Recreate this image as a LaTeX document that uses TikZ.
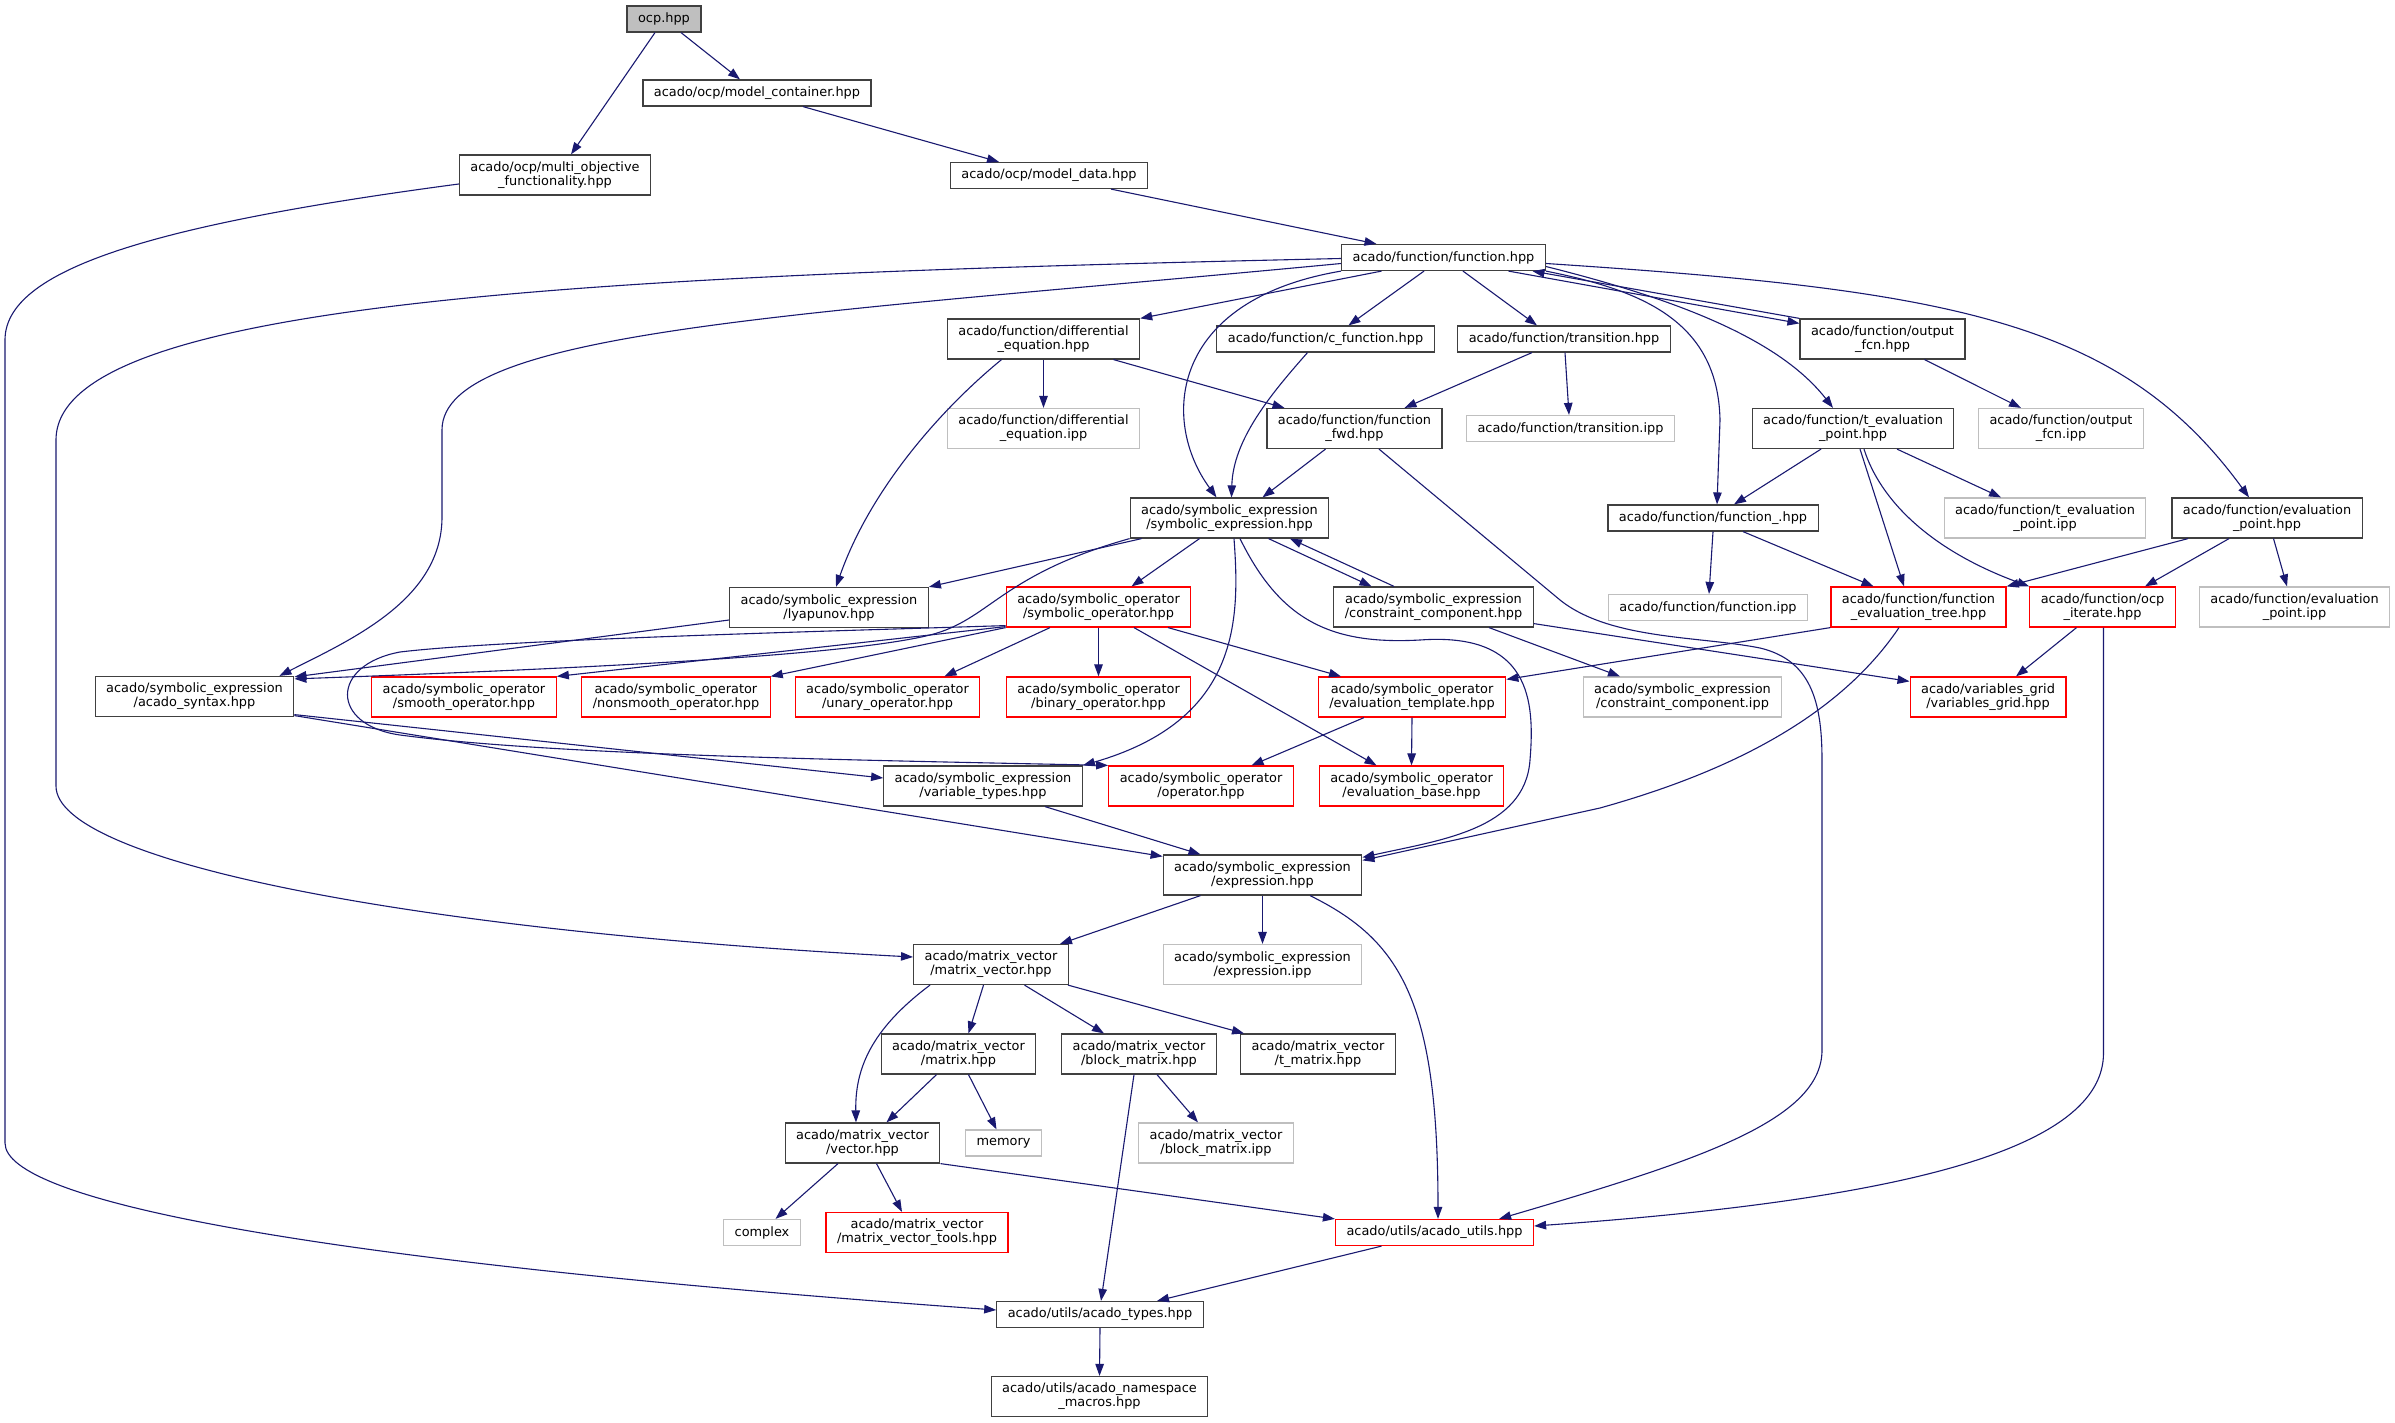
\documentclass[tikz,border=0pt]{standalone}
\usepackage{fontspec}
\setmainfont{DejaVu Sans}
\usetikzlibrary{arrows.meta}
\definecolor{edgecol}{HTML}{191970}
\definecolor{boxline}{HTML}{404040}
\definecolor{extline}{HTML}{BFBFBF}
\definecolor{rootfill}{HTML}{BFBFBF}
\begin{document}
\begin{tikzpicture}[x=1pt, y=-1pt,
	filebox/.style={draw=boxline, fill=white, line width=1.2pt, align=center,
		font=\fontsize{12.9pt}{14pt}\selectfont, inner xsep=11pt, inner ysep=3pt, minimum height=26pt},
	tall/.style={minimum height=40pt},
	truncbox/.style={filebox, draw=red},
	extbox/.style={filebox, draw=extline},
	rootbox/.style={filebox, fill=rootfill},
	edge/.style={draw=edgecol, line width=1.1pt, -{Triangle[length=12pt,width=8.5pt]}}]
	\fill[white] (0,0) rectangle (2395,1423);
	\useasboundingbox (0,0) rectangle (2395,1423);
	% top of the graph
	\node[rootbox] (ocp) at (664,19) {ocp.hpp};
	\node[filebox] (modcont) at (757,93) {acado/ocp/model\_container.hpp};
	\node[filebox,tall] (multiobj) at (555,175) {acado/ocp/multi\_objective\\\_functionality.hpp};
	\node[filebox] (moddata) at (1049,175.5) {acado/ocp/model\_data.hpp};
	\node[filebox] (fn) at (1443.5,257.5) {acado/function/function.hpp};
	% function layer
	\node[filebox,tall] (diffeq) at (1043.5,339) {acado/function/differential\\\_equation.hpp};
	\node[filebox] (cfn) at (1325.5,339) {acado/function/c\_function.hpp};
	\node[filebox] (trans) at (1564,339) {acado/function/transition.hpp};
	\node[filebox,tall] (outfcn) at (1882.5,339) {acado/function/output\\\_fcn.hpp};
	\node[extbox,tall] (diffeqipp) at (1043.5,428.5) {acado/function/differential\\\_equation.ipp};
	\node[filebox,tall] (fnfwd) at (1354.5,428.5) {acado/function/function\\\_fwd.hpp};
	\node[extbox] (transipp) at (1570.5,428.5) {acado/function/transition.ipp};
	\node[filebox,tall] (tevalpt) at (1853,428.5) {acado/function/t\_evaluation\\\_point.hpp};
	\node[extbox,tall] (outfcnipp) at (2061,428.5) {acado/function/output\\\_fcn.ipp};
	\node[filebox,tall] (symexpr) at (1229.5,518) {acado/symbolic\_expression\\/symbolic\_expression.hpp};
	\node[filebox] (fnus) at (1713,518) {acado/function/function\_.hpp};
	\node[extbox,tall] (tevalptipp) at (2045,518) {acado/function/t\_evaluation\\\_point.ipp};
	\node[filebox,tall] (evalpt) at (2267,518) {acado/function/evaluation\\\_point.hpp};
	% symbolic layer
	\node[filebox,tall] (lyap) at (829,607.5) {acado/symbolic\_expression\\/lyapunov.hpp};
	\node[truncbox,tall] (symop) at (1098.5,607) {acado/symbolic\_operator\\/symbolic\_operator.hpp};
	\node[filebox,tall] (constr) at (1433.5,607) {acado/symbolic\_expression\\/constraint\_component.hpp};
	\node[extbox] (fnipp) at (1708,607.5) {acado/function/function.ipp};
	\node[truncbox,tall] (fevaltree) at (1918.5,607) {acado/function/function\\\_evaluation\_tree.hpp};
	\node[truncbox,tall] (ocpit) at (2102.5,607) {acado/function/ocp\\\_iterate.hpp};
	\node[extbox,tall] (evalptipp) at (2294.5,607) {acado/function/evaluation\\\_point.ipp};
	\node[filebox,tall] (syntax) at (194.5,696.5) {acado/symbolic\_expression\\/acado\_syntax.hpp};
	\node[truncbox,tall] (smoothop) at (464,697) {acado/symbolic\_operator\\/smooth\_operator.hpp};
	\node[truncbox,tall] (nonsmoothop) at (676,697) {acado/symbolic\_operator\\/nonsmooth\_operator.hpp};
	\node[truncbox,tall] (unaryop) at (887.5,697) {acado/symbolic\_operator\\/unary\_operator.hpp};
	\node[truncbox,tall] (binaryop) at (1098.5,697) {acado/symbolic\_operator\\/binary\_operator.hpp};
	\node[truncbox,tall] (evaltmpl) at (1412,697) {acado/symbolic\_operator\\/evaluation\_template.hpp};
	\node[extbox,tall] (constripp) at (1682.5,697) {acado/symbolic\_expression\\/constraint\_component.ipp};
	\node[truncbox,tall] (vargrid) at (1988,697) {acado/variables\_grid\\/variables\_grid.hpp};
	\node[filebox,tall] (vartypes) at (983,786) {acado/symbolic\_expression\\/variable\_types.hpp};
	\node[truncbox,tall] (operator) at (1201,786) {acado/symbolic\_operator\\/operator.hpp};
	\node[truncbox,tall] (evalbase) at (1411.5,786) {acado/symbolic\_operator\\/evaluation\_base.hpp};
	\node[filebox,tall] (expr) at (1262.5,875) {acado/symbolic\_expression\\/expression.hpp};
	% matrix_vector and utils
	\node[filebox,tall] (matvec) at (991,964.5) {acado/matrix\_vector\\/matrix\_vector.hpp};
	\node[extbox,tall] (expripp) at (1262.5,964.5) {acado/symbolic\_expression\\/expression.ipp};
	\node[filebox,tall] (matrix) at (958.5,1054) {acado/matrix\_vector\\/matrix.hpp};
	\node[filebox,tall] (blockmat) at (1139,1054) {acado/matrix\_vector\\/block\_matrix.hpp};
	\node[filebox,tall] (tmatrix) at (1318,1054) {acado/matrix\_vector\\/t\_matrix.hpp};
	\node[filebox,tall] (vector) at (862.5,1143) {acado/matrix\_vector\\/vector.hpp};
	\node[extbox] (memory) at (1003.5,1143) {memory};
	\node[extbox,tall] (blockmatipp) at (1216,1143) {acado/matrix\_vector\\/block\_matrix.ipp};
	\node[extbox] (complex) at (762,1232.5) {complex};
	\node[truncbox,tall] (mvtools) at (917,1232.5) {acado/matrix\_vector\\/matrix\_vector\_tools.hpp};
	\node[truncbox] (utils) at (1434.5,1232.5) {acado/utils/acado\_utils.hpp};
	\node[filebox] (types) at (1100,1314.5) {acado/utils/acado\_types.hpp};
	\node[filebox,tall] (macros) at (1099.5,1396.5) {acado/utils/acado\_namespace\\\_macros.hpp};
	% edges from the top files
	\draw[edge] ([xshift=17pt]ocp.south) -- ([xshift=-17pt]modcont.north);
	\draw[edge] ([xshift=-9pt]ocp.south) -- ([xshift=16pt]multiobj.north);
	\draw[edge] ([xshift=46pt]modcont.south) -- ([xshift=-50pt]moddata.north);
	\draw[edge] ([xshift=62pt]moddata.south) -- ([xshift=-67pt]fn.north);
	\draw[edge] ([yshift=-9pt]multiobj.west) .. controls (150,225) and (5,270) .. (5,340) -- (5,1143)
		.. controls (5,1200) and (300,1260) .. ([yshift=4.5pt]types.west);
	% function.hpp
	\draw[edge] ([yshift=-1pt]fn.west) .. controls (600,275) and (56,300) .. (56,440) -- (56,786)
		.. controls (56,860) and (400,930) .. ([yshift=7.5pt]matvec.west);
	\draw[edge] ([yshift=-6pt]fn.west) .. controls (800,315) and (442,330) .. (442,430) -- (442,517)
		.. controls (442,600) and (350,640) .. ([xshift=-15pt]syntax.north east);
	\draw[edge] ([xshift=-62pt]fn.south) -- (diffeq.north east);
	\draw[edge] ([xshift=-19.5pt]fn.south) -- ([xshift=23pt]cfn.north);
	\draw[edge] ([xshift=19.5pt]fn.south) -- ([xshift=-27pt]trans.north);
	\draw[edge] (fn.south west) .. controls (1170,300) and (1160,420) .. ([xshift=-13pt]symexpr.north);
	\draw[edge] ([xshift=65pt]fn.south) -- ([yshift=-5pt]outfcn.north west);
	\draw[edge] (outfcn.north west) -- ([xshift=89pt]fn.south);
	\draw[edge] ([yshift=-9pt]fn.east) .. controls (1680,300) and (1780,340) .. ([xshift=-20pt]tevalpt.north);
	\draw[edge] (fn.south east) .. controls (1640,290) and (1718,320) .. (1720,420) -- ([xshift=4pt]fnus.north);
	\draw[edge] ([yshift=-6pt]fn.east) .. controls (1950,290) and (2120,320) .. ([xshift=-18pt]evalpt.north);
	% second row
	\draw[edge] (diffeq.south) -- (diffeqipp.north);
	\draw[edge] ([xshift=70pt]diffeq.south) -- ([xshift=-70pt]fnfwd.north);
	\draw[edge] ([xshift=-42pt]diffeq.south) .. controls (940,410) and (870,490) .. ([xshift=7pt]lyap.north);
	\draw[edge] ([xshift=-18pt]cfn.south) .. controls (1270,395) and (1233,440) .. ([xshift=2pt]symexpr.north);
	\draw[edge] ([xshift=-32pt]trans.south) -- ([xshift=50pt]fnfwd.north);
	\draw[edge] ([xshift=1pt]trans.south) -- ([xshift=-1.5pt]transipp.north);
	\draw[edge] ([xshift=42pt]outfcn.south) -- ([xshift=-40pt]outfcnipp.north);
	\draw[edge] ([xshift=-29pt]fnfwd.south) -- ([xshift=33pt]symexpr.north);
	\draw[edge] ([xshift=24.5pt]fnfwd.south) -- (1560,600) .. controls (1610,640) and (1700,636) .. (1760,648)
		.. controls (1810,660) and (1822,700) .. (1822,760) -- (1822,1050)
		.. controls (1822,1120) and (1700,1160) .. ([xshift=-35pt]utils.north east);
	\draw[edge] ([xshift=-32pt]tevalpt.south) -- ([xshift=21pt]fnus.north);
	\draw[edge] ([xshift=7pt]tevalpt.south) -- ([xshift=-14.5pt]fevaltree.north);
	\draw[edge] ([xshift=11pt]tevalpt.south) .. controls (1880,500) and (1930,550) .. (ocpit.north west);
	\draw[edge] ([xshift=44pt]tevalpt.south) -- ([xshift=-44pt]tevalptipp.north);
	\draw[edge] (fnus.south) -- ([xshift=1pt]fnipp.north);
	\draw[edge] ([xshift=30pt]fnus.south) -- ([xshift=-45pt]fevaltree.north);
	\draw[edge] ([xshift=-79pt]evalpt.south) -- (fevaltree.north east);
	\draw[edge] ([xshift=-38pt]evalpt.south) -- ([xshift=42.5pt]ocpit.north);
	\draw[edge] ([xshift=6.5pt]evalpt.south) -- ([xshift=-7.5pt]evalptipp.north);
	% symbolic_expression.hpp
	\draw[edge] ([xshift=12pt]symexpr.south west) -- (lyap.north east);
	\draw[edge] (symexpr.south west) .. controls (1000,575) and (990,620) .. (930,635)
		.. controls (850,655) and (600,668) .. ([yshift=-3pt]syntax.north east);
	\draw[edge] ([xshift=-30pt]symexpr.south) -- ([xshift=33pt]symop.north);
	\draw[edge] ([xshift=39pt]symexpr.south) -- ([xshift=-62pt]constr.north);
	\draw[edge] ([xshift=-39.5pt]constr.north) -- ([xshift=60.5pt]symexpr.south);
	\draw[edge] ([xshift=4.5pt]symexpr.south) .. controls (1240,620) and (1240,720) .. (vartypes.north east);
	\draw[edge] ([xshift=10.5pt]symexpr.south) .. controls (1280,620) and (1330,645) .. (1420,640)
		.. controls (1530,632) and (1535,700) .. (1530,760)
		.. controls (1525,830) and (1440,840) .. ([yshift=-3pt]expr.north east);
	% symbolic_operator.hpp
	\draw[edge] ([yshift=1pt]symop.south west) -- (smoothop.north east);
	\draw[edge] (symop.south west) -- (nonsmoothop.north east);
	\draw[edge] ([yshift=2pt]symop.south west) .. controls (800,632) and (500,640) .. (400,652)
		.. controls (330,665) and (330,725) .. (400,735)
		.. controls (550,755) and (850,760) .. (operator.north west);
	\draw[edge] ([xshift=-48.5pt]symop.south) -- ([xshift=57pt]unaryop.north);
	\draw[edge] (symop.south) -- (binaryop.north);
	\draw[edge] ([xshift=69.5pt]symop.south) -- ([xshift=-71pt]evaltmpl.north);
	\draw[edge] ([xshift=35.5pt]symop.south) -- ([xshift=-35pt]evalbase.north);
	\draw[edge] ([yshift=-12.5pt]lyap.west) -- ([yshift=-1pt]syntax.north east);
	\draw[edge] ([xshift=55.5pt]constr.south) -- ([xshift=-62.5pt]constripp.north);
	\draw[edge] ([yshift=4pt]constr.south east) -- ([yshift=-5pt]vargrid.north west);
	\draw[edge] (fevaltree.south west) -- ([yshift=-3pt]evaltmpl.north east);
	\draw[edge] ([xshift=-19.5pt]fevaltree.south) .. controls (1830,730) and (1700,780) .. (1600,808)
		-- ([yshift=-6pt]expr.north east);
	\draw[edge] ([xshift=-26pt]ocpit.south) -- ([xshift=28pt]vargrid.north);
	\draw[edge] ([xshift=1pt]ocpit.south) -- (2103.5,1053)
		.. controls (2103.5,1150) and (1900,1200) .. ([yshift=6.5pt]utils.east);
	\draw[edge] ([yshift=2.5pt]syntax.south east) -- ([yshift=8pt]vartypes.west);
	\draw[edge] ([yshift=1.5pt]syntax.south east) -- ([yshift=-2pt]expr.north west);
	\draw[edge] ([xshift=62pt]vartypes.south) -- ([xshift=-62pt]expr.north);
	\draw[edge] ([xshift=-48pt]evaltmpl.south) -- ([xshift=50.5pt]operator.north);
	\draw[edge] (evaltmpl.south) -- (evalbase.north);
	% expression.hpp and below
	\draw[edge] ([xshift=-62pt]expr.south) -- ([xshift=69pt]matvec.north);
	\draw[edge] (expr.south) -- (expripp.north);
	\draw[edge] ([xshift=47.5pt]expr.south) .. controls (1400,940) and (1438,1000) .. ([xshift=3.5pt]utils.north);
	\draw[edge] ([xshift=-61pt]matvec.south) .. controls (870,1030) and (855,1070) .. ([xshift=-6.5pt]vector.north);
	\draw[edge] ([xshift=-7.5pt]matvec.south) -- ([xshift=10pt]matrix.north);
	\draw[edge] ([xshift=33.5pt]matvec.south) -- ([xshift=-35pt]blockmat.north);
	\draw[edge] ([xshift=77pt]matvec.south) -- ([xshift=-74pt]tmatrix.north);
	\draw[edge] ([xshift=-22pt]matrix.south) -- ([xshift=24pt]vector.north);
	\draw[edge] ([xshift=10pt]matrix.south) -- ([xshift=-7pt]memory.north);
	\draw[edge] ([xshift=18pt]blockmat.south) -- ([xshift=-18pt]blockmatipp.north);
	\draw[edge] ([xshift=-5pt]blockmat.south) -- ([xshift=1pt]types.north);
	\draw[edge] ([xshift=-24.5pt]vector.south) -- ([xshift=13.5pt]complex.north);
	\draw[edge] ([xshift=14pt]vector.south) -- ([xshift=-15pt]mvtools.north);
	\draw[edge] (vector.south east) -- (utils.north west);
	\draw[edge] ([xshift=-53pt]utils.south) -- ([xshift=57pt]types.north);
	\draw[edge] (types.south) -- (macros.north);
\end{tikzpicture}
\end{document}
